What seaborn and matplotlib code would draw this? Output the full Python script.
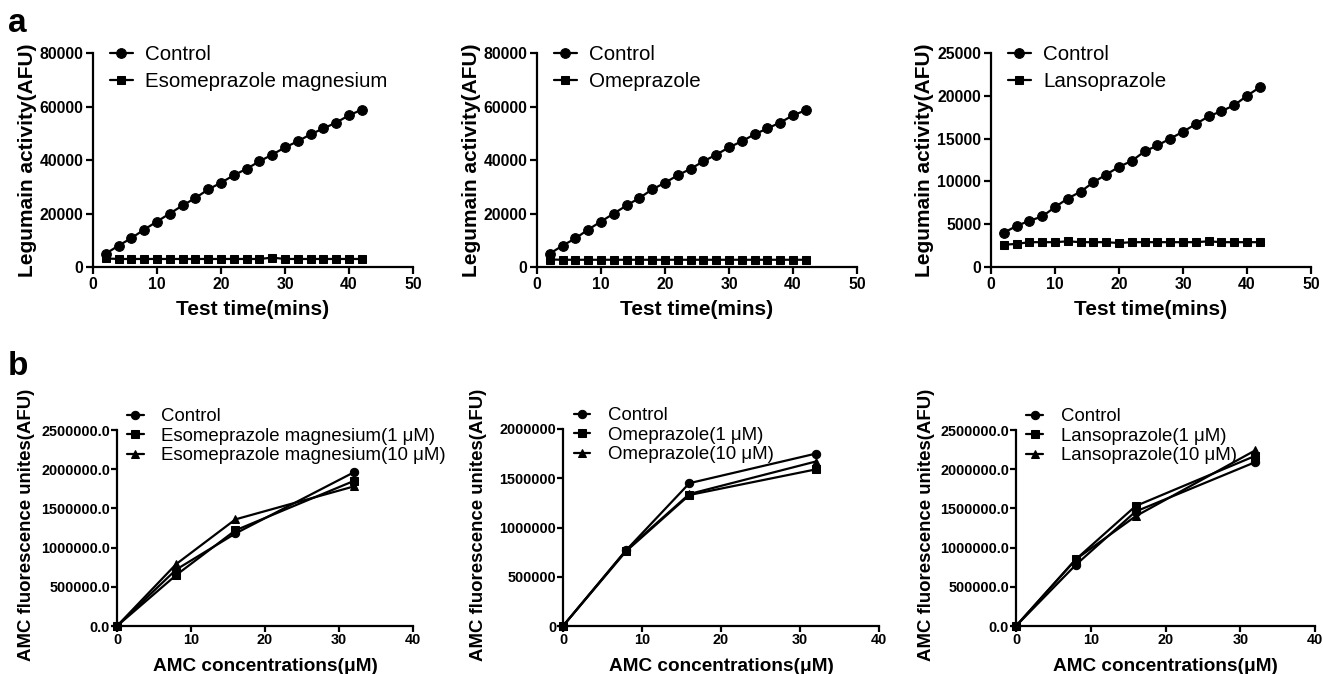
import matplotlib
matplotlib.use("Agg")
import matplotlib.pyplot as plt
import seaborn as sns
import numpy as np

sns.set_style("ticks")
plt.rcParams['font.family'] = ['Liberation Sans', 'DejaVu Sans']
plt.rcParams['text.color'] = 'black'
plt.rcParams['axes.labelcolor'] = 'black'

# ---- panel a: legumain activity over time ----
time_min = list(range(2, 43, 2))

esome_control = [5000, 8000, 10800, 14000, 17000, 20000, 23000, 25800, 29000, 31500, 34300,
                 36700, 39500, 42000, 44700, 47000, 49600, 51800, 54000, 56700, 58800]
esome_drug = [3200, 3000, 3000, 3000, 3000, 3000, 3000, 3000, 3000, 3000, 3000,
              3000, 3000, 3500, 3000, 3000, 3000, 3000, 3000, 3000, 3000]

omep_control = [5000, 8000, 10700, 14000, 17000, 20000, 23000, 25800, 29000, 31500, 34300,
                36700, 39500, 42000, 44700, 47000, 49600, 51800, 54000, 56700, 58600]
omep_drug = [2800, 2700, 2700, 2700, 2700, 2700, 2700, 2700, 2700, 2700, 2700,
             2700, 2700, 2700, 2700, 2700, 2700, 2700, 2700, 2700, 2700]

lanso_control = [4000, 4800, 5400, 5900, 7000, 8000, 8800, 9900, 10800, 11700, 12400,
                 13500, 14200, 15000, 15800, 16700, 17600, 18200, 18900, 20000, 21000]
lanso_drug = [2600, 2700, 2900, 2900, 2900, 3000, 2900, 2900, 2900, 2800, 2900,
              2900, 2900, 2900, 2900, 2900, 3000, 2900, 2900, 2900, 2900]

# ---- panel b: AMC standard curves ----
amc_conc = [0, 8, 16, 32]

b_esome_control = [0, 720000, 1180000, 1960000]
b_esome_1 = [0, 650000, 1220000, 1850000]
b_esome_10 = [0, 790000, 1360000, 1780000]

b_omep_control = [0, 770000, 1450000, 1750000]
b_omep_1 = [0, 760000, 1330000, 1590000]
b_omep_10 = [0, 770000, 1340000, 1670000]

b_lanso_control = [0, 780000, 1460000, 2090000]
b_lanso_1 = [0, 850000, 1530000, 2170000]
b_lanso_10 = [0, 850000, 1400000, 2240000]

W, H = 1323, 674
fig = plt.figure(figsize=(W / 100, H / 100), dpi=100)


def px_axes(left, right, top, bottom):
    return fig.add_axes([left / W, 1 - bottom / H, (right - left) / W, (bottom - top) / H])


def style_axes(ax, tick_size, tick_len, tick_pad):
    sns.despine(ax=ax)
    for sp in ['left', 'bottom']:
        ax.spines[sp].set_linewidth(1.6)
        ax.spines[sp].set_color('black')
    ax.tick_params(width=1.6, length=tick_len, labelsize=tick_size, colors='black', pad=tick_pad)
    for lab in ax.get_xticklabels() + ax.get_yticklabels():
        lab.set_fontweight('bold')
    for a in ax.lines:
        a.set_clip_on(False)


def panel_a(ax, control, drug, drug_name, ymax, ystep):
    sns.lineplot(x=time_min, y=control, ax=ax, color='black', marker='o', markersize=7,
                 linewidth=1.6, markeredgecolor='black', label='Control')
    sns.lineplot(x=time_min, y=drug, ax=ax, color='black', marker='s', markersize=6,
                 linewidth=1.6, markeredgecolor='black', label=drug_name)
    ax.set_xlim(0, 50)
    ax.set_ylim(0, ymax)
    ax.set_xticks(np.arange(0, 51, 10))
    ax.set_yticks(np.arange(0, ymax + 1, ystep))
    ax.set_xlabel('Test time(mins)', fontsize=15, fontweight='bold', labelpad=6)
    ax.set_ylabel('Legumain activity(AFU)', fontsize=15, fontweight='bold', labelpad=2)
    ax.legend(loc='upper left', bbox_to_anchor=(0.053, 1.037), frameon=False, fontsize=14.8,
              handlelength=1.1, handletextpad=0.6, labelspacing=0.39, borderaxespad=0,
              borderpad=0)
    style_axes(ax, 11.4, 5, 2)


def panel_b(ax, series, names, ymax, fmt, label_x):
    for vals, name, mk in zip(series, names, ['o', 's', '^']):
        sns.lineplot(x=amc_conc, y=vals, ax=ax, color='black', marker=mk, markersize=6,
                     linewidth=1.6, markeredgecolor='black', label=name)
    ax.set_xlim(0, 40)
    ax.set_ylim(0, ymax)
    ax.set_xticks(np.arange(0, 41, 10))
    ticks = np.arange(0, ymax + 1, 500000)
    ax.set_yticks(ticks)
    ax.set_yticklabels([fmt.format(v) for v in ticks])
    ax.set_xlabel('AMC concentrations(μM)', fontsize=13.7, fontweight='bold', labelpad=8)
    ax.set_ylabel('AMC fluorescence unites(AFU)', fontsize=13.4, fontweight='bold')
    ax.yaxis.set_label_coords(label_x, 0.515)
    ax.legend(loc='upper left', bbox_to_anchor=(0.034, 1.11), frameon=False, fontsize=13.4,
              handlelength=0.9, handletextpad=0.95, labelspacing=0.13, borderaxespad=0,
              borderpad=0)
    style_axes(ax, 10.4, 4, 1)


ax1 = px_axes(93, 413, 53, 267)
panel_a(ax1, esome_control, esome_drug, 'Esomeprazole magnesium', 80000, 20000)
ax2 = px_axes(537, 857, 53, 267)
panel_a(ax2, omep_control, omep_drug, 'Omeprazole', 80000, 20000)
ax3 = px_axes(991, 1311, 53, 267)
panel_a(ax3, lanso_control, lanso_drug, 'Lansoprazole', 25000, 5000)

bx1 = px_axes(117, 413, 430, 626)
panel_b(bx1, [b_esome_control, b_esome_1, b_esome_10],
        ['Control', 'Esomeprazole magnesium(1 μM)', 'Esomeprazole magnesium(10 μM)'],
        2500000, '{:.1f}', -0.277)
bx2 = px_axes(563, 879, 429, 626)
panel_b(bx2, [b_omep_control, b_omep_1, b_omep_10],
        ['Control', 'Omeprazole(1 μM)', 'Omeprazole(10 μM)'],
        2000000, '{:.0f}', -0.24)
bx3 = px_axes(1016, 1315, 430, 626)
panel_b(bx3, [b_lanso_control, b_lanso_1, b_lanso_10],
        ['Control', 'Lansoprazole(1 μM)', 'Lansoprazole(10 μM)'],
        2500000, '{:.1f}', -0.271)

fig.text(8 / W, 1 - 32 / H, 'a', fontsize=24, fontweight='bold', va='baseline')
fig.text(8 / W, 1 - 375 / H, 'b', fontsize=24, fontweight='bold', va='baseline')

fig.savefig('out.png', dpi=100)
